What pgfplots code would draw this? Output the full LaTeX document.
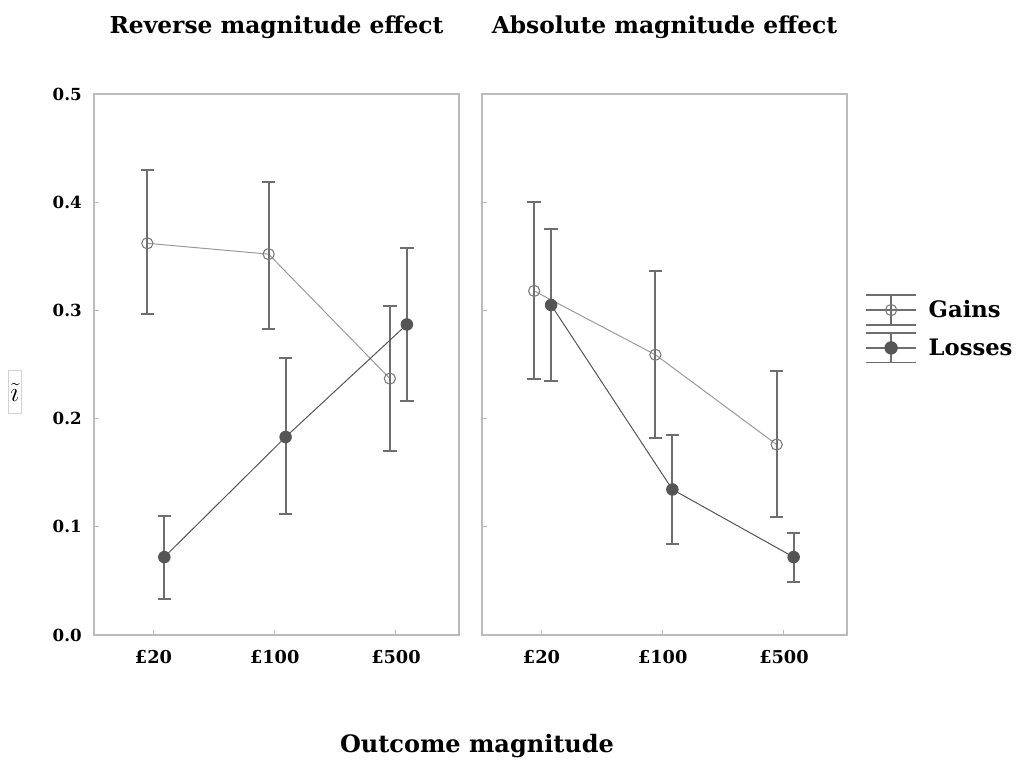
\documentclass[border=0pt]{standalone}
\usepackage{fontspec}
\setmainfont{DejaVu Serif}
\usepackage{pgfplots}
\usepackage{pgfplotstable}
\pgfplotsset{compat=1.18}
\definecolor{framec}{HTML}{BBBBBB}
\definecolor{errc}{HTML}{6E6E6E}
\definecolor{gainl}{HTML}{9A9A9A}
\definecolor{gainm}{HTML}{7A7A7A}
\definecolor{lossl}{HTML}{555555}
\definecolor{lossf}{HTML}{555555}

\pgfplotstableread{
x y ep em
-0.05 0.362 0.068 0.065
0.95 0.352 0.067 0.069
1.95 0.237 0.067 0.067
}\leftgains
\pgfplotstableread{
x y ep em
0.09 0.072 0.038 0.039
1.09 0.183 0.073 0.071
2.09 0.287 0.071 0.071
}\leftlosses
\pgfplotstableread{
x y ep em
-0.06 0.318 0.082 0.081
0.94 0.259 0.077 0.077
1.94 0.176 0.068 0.067
}\rightgains
\pgfplotstableread{
x y ep em
0.08 0.305 0.070 0.070
1.08 0.1345 0.050 0.050
2.08 0.072 0.022 0.023
}\rightlosses

\pgfplotsset{
  panel/.style={
    scale only axis, width=273.75pt, height=405.75pt,
    anchor=south west,
    xmin=-0.49, xmax=2.52, ymin=0, ymax=0.5,
    xtick={0,1,2}, xticklabels={\textbf{£20},\textbf{£100},\textbf{£500}},
    ytick={0,0.1,0.2,0.3,0.4,0.5},
    axis line style={framec, line width=0.8pt},
    tick style={framec, line width=0.8pt},
    major tick length=4pt,
    xtick pos=bottom, ytick pos=left, tick align=inside,
    /pgf/number format/assume math mode=true,
    yticklabel style={/pgf/number format/fixed, /pgf/number format/fixed zerofill, /pgf/number format/precision=1,
      font=\bfseries\fontsize{12.5}{12.5}\selectfont, anchor=east, inner sep=0pt, xshift=-9pt},
    xticklabel style={font=\bfseries\fontsize{13.3}{13.3}\selectfont, anchor=base, inner sep=0pt, yshift=-21.75pt},
    title style={font=\bfseries\fontsize{17.5}{17.5}\selectfont, anchor=base, inner sep=0pt, at={(0.5,1)}, yshift=39pt},
    clip=false,
  },
  errlegend/.style={
    legend image code/.code={
      \draw[errc, line width=1.4pt] (0pt,11pt) -- (37pt,11pt) (0pt,-11pt) -- (37pt,-11pt) (18.5pt,-11pt) -- (18.5pt,11pt);
      \draw[##1, errc, line width=1.4pt, mark repeat=2, mark phase=2] plot coordinates {(0pt,0pt) (18.5pt,0pt) (37pt,0pt)};
    }
  },
  gainsstyle/.style={
    errlegend,
    color=gainl, line width=0.75pt, mark=o, mark size=4.2pt,
    mark options={draw=gainm, fill=white, line width=0.8pt},
    error bars/.cd, y dir=both, y explicit,
    error bar style={draw=errc, line width=1.5pt},
    error mark options={draw=errc, rotate=90, mark size=5pt, line width=1.5pt},
    /pgfplots/.cd,
  },
  lossesstyle/.style={
    errlegend,
    color=lossl, line width=0.75pt, mark=*, mark size=4.3pt,
    mark options={draw=lossf, fill=lossf},
    error bars/.cd, y dir=both, y explicit,
    error bar style={draw=errc, line width=1.5pt},
    error mark options={draw=errc, rotate=90, mark size=5pt, line width=1.5pt},
    /pgfplots/.cd,
  },
}

\begin{document}
\begin{tikzpicture}
\useasboundingbox (0pt,0pt) rectangle (766.5pt,573pt);

\begin{axis}[panel, at={(70.5pt,96.75pt)}, title={Reverse magnitude effect}]
\addplot+[gainsstyle] table[x=x, y=y, y error plus=ep, y error minus=em] {\leftgains};
\addplot+[lossesstyle] table[x=x, y=y, y error plus=ep, y error minus=em] {\leftlosses};
\end{axis}

\begin{axis}[panel, at={(361.5pt,96.75pt)}, title={Absolute magnitude effect}, yticklabels={},
  legend style={at={(1.05,0.630)}, anchor=north west, draw=none, fill=none,
    font=\bfseries\fontsize{17}{17}\selectfont, row sep=5pt, inner sep=0pt,
    nodes={inner sep=2pt},
    /tikz/every odd column/.append style={column sep=7pt}},
  legend cell align=left]
\addplot+[gainsstyle] table[x=x, y=y, y error plus=ep, y error minus=em] {\rightgains};
\addlegendentry{Gains}
\addplot+[lossesstyle] table[x=x, y=y, y error plus=ep, y error minus=em] {\rightlosses};
\addlegendentry{Losses}
\end{axis}

\node[draw=gray!35, line width=0.4pt, inner sep=0.5pt, minimum width=9.5pt, minimum height=32pt] at (11pt,279pt) {\fontsize{22}{22}\selectfont$\tilde{\imath}$};
\node[font=\bfseries\fontsize{18}{18}\selectfont, anchor=base, inner sep=0pt] at (357.75pt,8.25pt) {Outcome magnitude};
\end{tikzpicture}
\end{document}
